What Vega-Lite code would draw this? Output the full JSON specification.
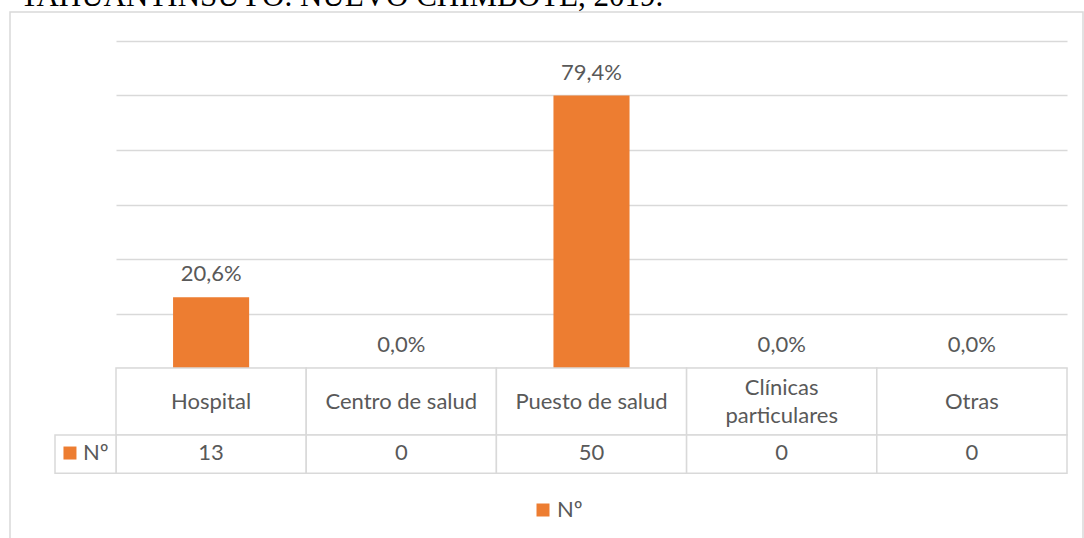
{
  "$schema": "https://vega.github.io/schema/vega-lite/v6.json",
  "width": 1073,
  "height": 528,
  "autosize": {"type": "none"},
  "padding": {"left": 10, "top": 12, "right": 1, "bottom": 0},
  "title": {
    "text": "TAHUANTINSUYO. NUEVO CHIMBOTE, 2019.",
    "font": "Liberation Serif",
    "fontSize": 31,
    "fontWeight": "normal",
    "color": "#000000",
    "anchor": "start",
    "frame": "group",
    "baseline": "bottom",
    "offset": -32,
    "dx": 10
  },
  "config": {
    "view": {"stroke": "#d9d9d9", "strokeWidth": 1.5},
    "font": "Lato",
    "locale": {"number": {"decimal": ",", "thousands": ".", "grouping": [3], "currency": ["", " €"]}}
  },
  "data": {
    "values": [
      {"lugar": "Hospital", "rotulo": ["Hospital"], "n": 13, "pct": 0.206},
      {"lugar": "Centro de salud", "rotulo": ["Centro de salud"], "n": 0, "pct": 0.0},
      {"lugar": "Puesto de salud", "rotulo": ["Puesto de salud"], "n": 50, "pct": 0.794},
      {"lugar": "Clínicas particulares", "rotulo": ["Clínicas", "particulares"], "n": 0, "pct": 0.0},
      {"lugar": "Otras", "rotulo": ["Otras"], "n": 0, "pct": 0.0}
    ]
  },
  "layer": [
    {
      "mark": {"type": "bar", "width": {"band": 0.4}},
      "encoding": {
        "x": {
          "field": "lugar",
          "type": "nominal",
          "sort": null,
          "scale": {
            "domain": ["Hospital", "Centro de salud", "Puesto de salud", "Clínicas particulares", "Otras"],
            "range": [106, 1057],
            "paddingInner": 0,
            "paddingOuter": 0
          },
          "axis": null
        },
        "y": {
          "field": "n",
          "type": "quantitative",
          "scale": {"domain": [0, 60], "range": [356, 29], "nice": false, "zero": false},
          "axis": {
            "values": [0, 10, 20, 30, 40, 50, 60],
            "grid": true,
            "gridColor": "#d9d9d9",
            "gridWidth": 1.5,
            "labels": false,
            "ticks": false,
            "domain": false,
            "title": null
          }
        },
        "color": {
          "datum": "Nº",
          "scale": {"range": ["#ED7D31"]},
          "legend": {
            "orient": "none",
            "legendX": 522,
            "legendY": 487,
            "title": null,
            "symbolType": "square",
            "symbolSize": 169,
            "symbolStrokeWidth": 0,
            "labelFontSize": 22,
            "labelColor": "#595959",
            "labelFont": "Lato",
            "labelOffset": 3,
            "padding": 0
          }
        }
      }
    },
    {
      "mark": {"type": "text", "baseline": "alphabetic", "dy": -16, "fontSize": 22, "color": "#595959"},
      "encoding": {
        "x": {"field": "lugar", "type": "nominal", "sort": null},
        "y": {"field": "n", "type": "quantitative"},
        "text": {"field": "pct", "type": "quantitative", "format": ".1%"}
      }
    },
    {
      "mark": {"type": "rect", "fill": "white", "stroke": "#d9d9d9", "strokeWidth": 1.5},
      "encoding": {
        "x": {"field": "lugar", "type": "nominal", "sort": null},
        "y": {"datum": 0},
        "y2": {"datum": -12.3}
      }
    },
    {
      "mark": {"type": "rect", "fill": "white", "stroke": "#d9d9d9", "strokeWidth": 1.5},
      "encoding": {
        "x": {"field": "lugar", "type": "nominal", "sort": null},
        "y": {"datum": -12.3},
        "y2": {"datum": -19.3}
      }
    },
    {
      "transform": [{"filter": "length(datum.rotulo) == 1"}],
      "mark": {"type": "text", "baseline": "middle", "fontSize": 22, "color": "#595959"},
      "encoding": {
        "x": {"field": "lugar", "type": "nominal", "sort": null},
        "y": {"datum": -6.15},
        "text": {"field": "rotulo"}
      }
    },
    {
      "transform": [{"filter": "length(datum.rotulo) > 1"}],
      "mark": {"type": "text", "baseline": "middle", "fontSize": 22, "lineHeight": 28, "dy": -14, "color": "#595959"},
      "encoding": {
        "x": {"field": "lugar", "type": "nominal", "sort": null},
        "y": {"datum": -6.15},
        "text": {"field": "rotulo"}
      }
    },
    {
      "mark": {"type": "text", "baseline": "middle", "fontSize": 22, "color": "#595959"},
      "encoding": {
        "x": {"field": "lugar", "type": "nominal", "sort": null},
        "y": {"datum": -15.6},
        "text": {"field": "n", "type": "quantitative"}
      }
    },
    {
      "data": {"values": [{"serie": "Nº"}]},
      "mark": {"type": "rect", "fill": "white", "stroke": "#d9d9d9", "strokeWidth": 1.5},
      "encoding": {
        "x": {"datum": "Hospital", "bandPosition": -0.3207},
        "x2": {"datum": "Hospital", "bandPosition": 0},
        "y": {"datum": -12.3},
        "y2": {"datum": -19.3}
      }
    },
    {
      "data": {"values": [{"serie": "Nº"}]},
      "mark": {"type": "point", "shape": "square", "filled": true, "size": 169, "opacity": 1},
      "encoding": {
        "x": {"datum": "Hospital", "bandPosition": -0.242},
        "y": {"datum": -15.6},
        "color": {"datum": "Nº"}
      }
    },
    {
      "data": {"values": [{"serie": "Nº"}]},
      "mark": {"type": "text", "align": "left", "baseline": "middle", "fontSize": 22, "color": "#595959"},
      "encoding": {
        "x": {"datum": "Hospital", "bandPosition": -0.1735},
        "y": {"datum": -15.6},
        "text": {"field": "serie"}
      }
    }
  ]
}
